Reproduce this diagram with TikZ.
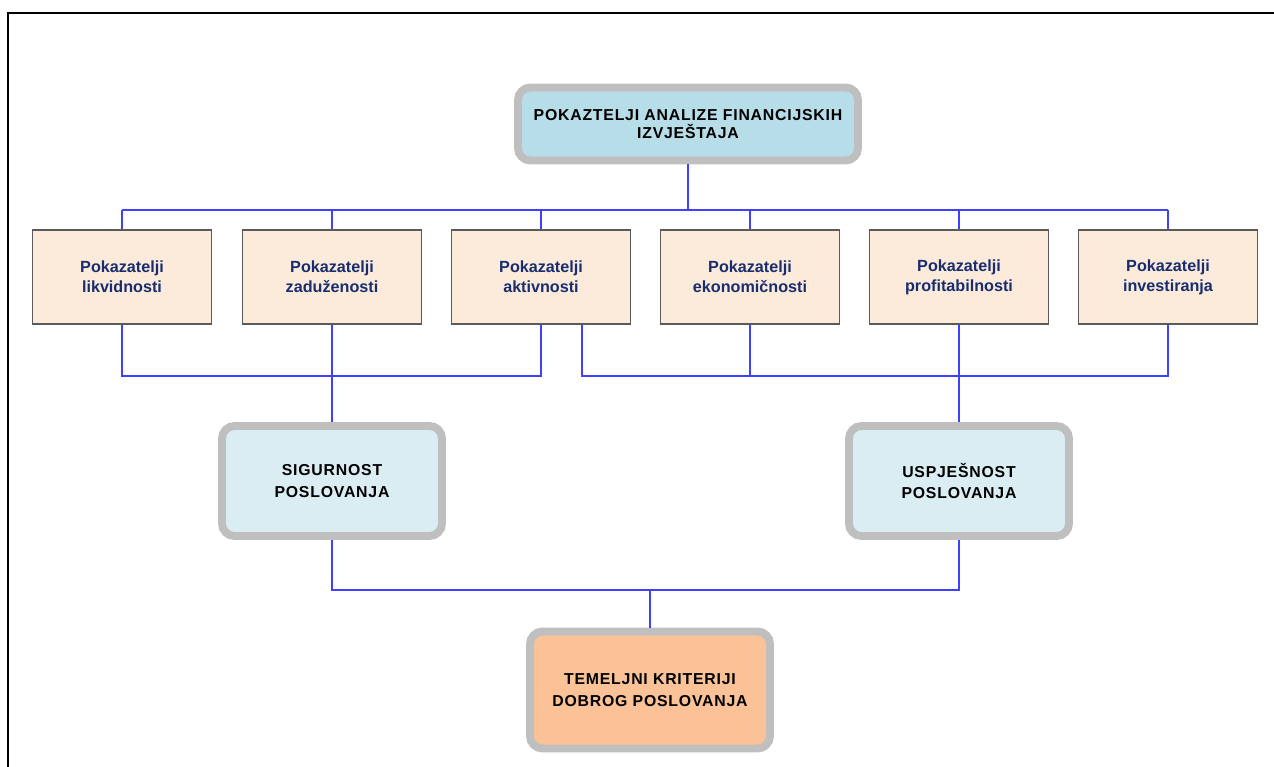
\documentclass[tikz,border=0pt]{standalone}
\usepackage{fontspec}
\setmainfont{Liberation Sans}
\newfontfamily\capsfont[LetterSpace=5]{Liberation Sans}
\usepackage{tikz}
\usetikzlibrary{shadows}

\definecolor{topfill}{RGB}{183,221,232}
\definecolor{midfill}{RGB}{218,237,243}
\definecolor{basefill}{RGB}{250,194,150}
\definecolor{peach}{RGB}{252,234,219}
\definecolor{navy}{RGB}{23,45,110}
\definecolor{linkblue}{RGB}{64,64,255}
\definecolor{framegray}{RGB}{191,191,191}
\definecolor{boxedge}{RGB}{90,90,90}

\begin{document}
\begin{tikzpicture}
  [x=0.2mm,y=-0.2mm,
   small/.style={rectangle,draw=boxedge,line width=0.9pt,fill=peach,
     minimum width=3.58cm,minimum height=1.88cm,align=center,text=navy,
     drop shadow={shadow xshift=0.4pt,shadow yshift=-0.6pt,fill=black!45},
     font=\fontsize{9.2}{11.3}\selectfont\bfseries},
   big/.style={rectangle,rounded corners=2.5mm,draw=framegray,line width=4.5pt,
     align=center,font=\capsfont\fontsize{9}{12.4}\selectfont\bfseries},
   link/.style={draw=linkblue,line width=0.8pt}]
  \useasboundingbox (0,0) rectangle (1274,767);
  \draw [line width=1.4pt] (8,767) -- (8,13) -- (1274,13);

  \node [big,fill=topfill,minimum width=6.8cm,minimum height=1.46cm,
    font=\capsfont\fontsize{9}{10.2}\selectfont\bfseries] (top) at (688,124)
    {POKAZTELJI ANALIZE FINANCIJSKIH\\IZVJEŠTAJA};

  \node [small] (likv) at (122,277) {Pokazatelji\\likvidnosti};
  \node [small] (zad)  at (332,277) {Pokazatelji\\zaduženosti};
  \node [small] (akt)  at (541,277) {Pokazatelji\\aktivnosti};
  \node [small] (ekon) at (750,277) {Pokazatelji\\ekonomičnosti};
  \node [small] (prof) at (959,277) {Pokazatelji\\profitabilnosti};
  \node [small] (inv)  at (1168,277) {Pokazatelji\\investiranja};

  \node [big,fill=midfill,minimum width=4.4cm,minimum height=2.2cm] (sig) at (332,481) {SIGURNOST\\POSLOVANJA};
  \node [big,fill=midfill,minimum width=4.4cm,minimum height=2.2cm] (usp) at (959,481) {USPJEŠNOST\\POSLOVANJA};
  \node [big,fill=basefill,minimum width=4.8cm,minimum height=2.34cm] (tem) at (650,690) {TEMELJNI KRITERIJI\\DOBROG POSLOVANJA};

  \coordinate (top bus) at (688,210);
  \coordinate (mid bus) at (0,376);
  \coordinate (low bus) at (650,590);
  \coordinate (akt right) at ([xshift=0.82cm]akt.south);

  \draw [link] (top.south) -- (top bus);
  \draw [link] (likv.north |- top bus) -- (inv.north |- top bus);
  \foreach \b in {likv,zad,akt,ekon,prof,inv}
    \draw [link] (\b.north |- top bus) -- (\b.north);

  \draw [link] (likv.south) |- (akt.south |- mid bus) -- (akt.south);
  \draw [link] (zad.south) -- (sig.north);
  \draw [link] (akt right) |- (inv.south |- mid bus) -- (inv.south);
  \draw [link] (ekon.south) -- (ekon.south |- mid bus);
  \draw [link] (prof.south) -- (usp.north);

  \draw [link] (sig.south) |- (usp.south |- low bus) -- (usp.south);
  \draw [link] (low bus) -- (tem.north);
\end{tikzpicture}
\end{document}
